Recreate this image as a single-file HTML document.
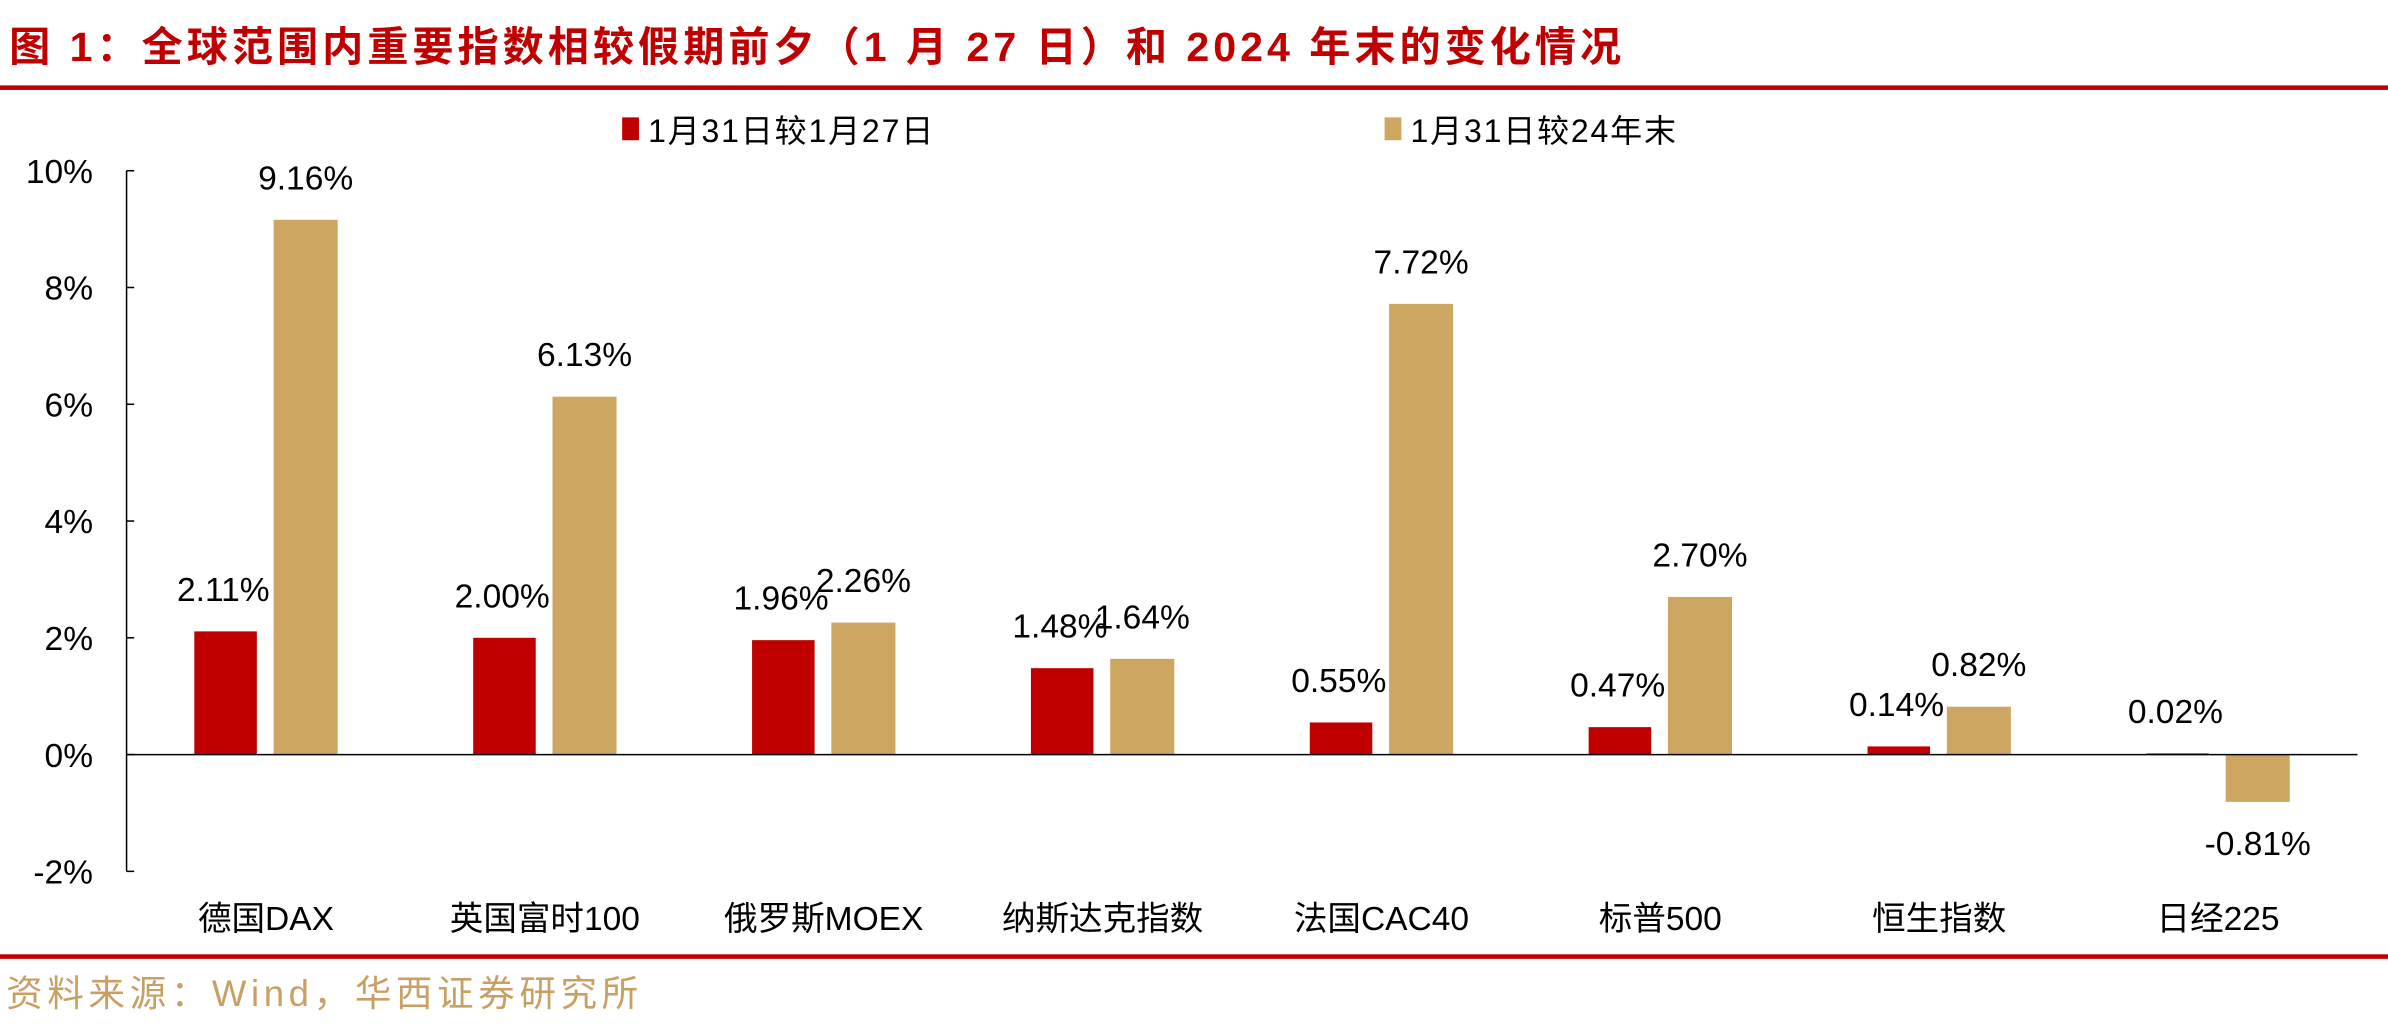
<!DOCTYPE html>
<html><head><meta charset="utf-8"><style>
html,body{margin:0;padding:0;background:#fff;}
#wrap{width:1566px;height:677px;transform:scale(1.5249,1.5244);transform-origin:0 0;position:relative;font-family:"Liberation Sans","Noto Sans CJK SC",sans-serif;}
</style></head><body>
<div id="wrap">
<svg id="chart" width="1566" height="677" style="position:absolute;left:0;top:0">
<text x="6" y="40" font-size="27" font-weight="bold" letter-spacing="2.6" fill="#c00000">图 1：全球范围内重要指数相较假期前夕（1 月 27 日）和 2024 年末的变化情况</text>
<rect x="0" y="56" width="1566" height="3" fill="#c00000"/>
<rect x="408" y="77" width="11" height="15" fill="#c00000"/>
<text x="425" y="93" font-size="21" letter-spacing="1.2" fill="#000">1月31日较1月27日</text>
<rect x="908" y="77" width="11" height="15" fill="#cda662"/>
<text x="925" y="93" font-size="21" letter-spacing="1.2" fill="#000">1月31日较24年末</text>
<g id="plot"></g>
<rect x="0" y="626" width="1566" height="3" fill="#c00000"/>
<text x="4" y="660" font-size="24" letter-spacing="3" fill="#c9a063">资料来源：Wind，华西证券研究所</text>
</svg>
</div>
<script>
const categories=["德国DAX","英国富时100","俄罗斯MOEX","纳斯达克指数","法国CAC40","标普500","恒生指数","日经225"];
const seriesJan27=[2.11,2.00,1.96,1.48,0.55,0.47,0.14,0.02];
const seriesYE24=[9.16,6.13,2.26,1.64,7.72,2.70,0.82,-0.81];
const yTicks=[10,8,6,4,2,0,-2];
const yTickLabels=["10%","8%","6%","4%","2%","0%","-2%"];
const NS="http://www.w3.org/2000/svg";
const g=document.getElementById('plot');
const X0=83,X1=1546,Y10=112,Y0=495;
const y=v=>Y0-(v/10)*(Y0-Y10);
const bw=(X1-X0)/categories.length;
const cx=i=>X0+bw*(i+0.5);
function mk(t,a){const e=document.createElementNS(NS,t);for(const k in a)e.setAttribute(k,a[k]);g.appendChild(e);return e;}
let ax=mk('line',{x1:X0,y1:y(10),x2:X0,y2:y(-2),stroke:'#000','stroke-width':1});


yTicks.forEach((t,i)=>{
 let tk=mk('line',{x1:X0,y1:y(t),x2:X0+5,y2:y(t),stroke:'#000','stroke-width':1});
 
 
 let tl=mk('text',{x:61,y:y(t)+8,'font-size':22,'text-anchor':'end',fill:'#000'});
 tl.textContent=yTickLabels[i];
 
 
});
const fmt=v=>v.toFixed(2)+'%';
categories.forEach((c,i)=>{
 const v1=seriesJan27[i],v2=seriesYE24[i];
 let r1=mk('rect',{x:cx(i)-47,y:Math.min(y(v1),Y0),width:41,height:Math.max(Math.abs(y(v1)-Y0),1),fill:'#c00000'});
 
 
 let r2=mk('rect',{x:cx(i)+5,y:Math.min(y(v2),Y0),width:42,height:Math.abs(y(v2)-Y0),fill:'#cda662'});
 
 
 let l1=mk('text',{x:cx(i)-28,y:(v1>=0?y(v1)-20:y(v1)+35),'font-size':22,'text-anchor':'middle',fill:'#000'});
 l1.textContent=fmt(v1);
 
 
 let l2=mk('text',{x:cx(i)+26,y:(v2>=0?y(v2)-20:y(v2)+35),'font-size':22,'text-anchor':'middle',fill:'#000'});
 l2.textContent=fmt(v2);
 
 
 let xl=mk('text',{x:cx(i),y:610,'font-size':22,'text-anchor':'middle',fill:'#000'});
 xl.textContent=c;
 
 
});
let zl=mk('line',{x1:X0,y1:Y0,x2:X1,y2:Y0,stroke:'#000','stroke-width':1});


</script>
</body></html>
